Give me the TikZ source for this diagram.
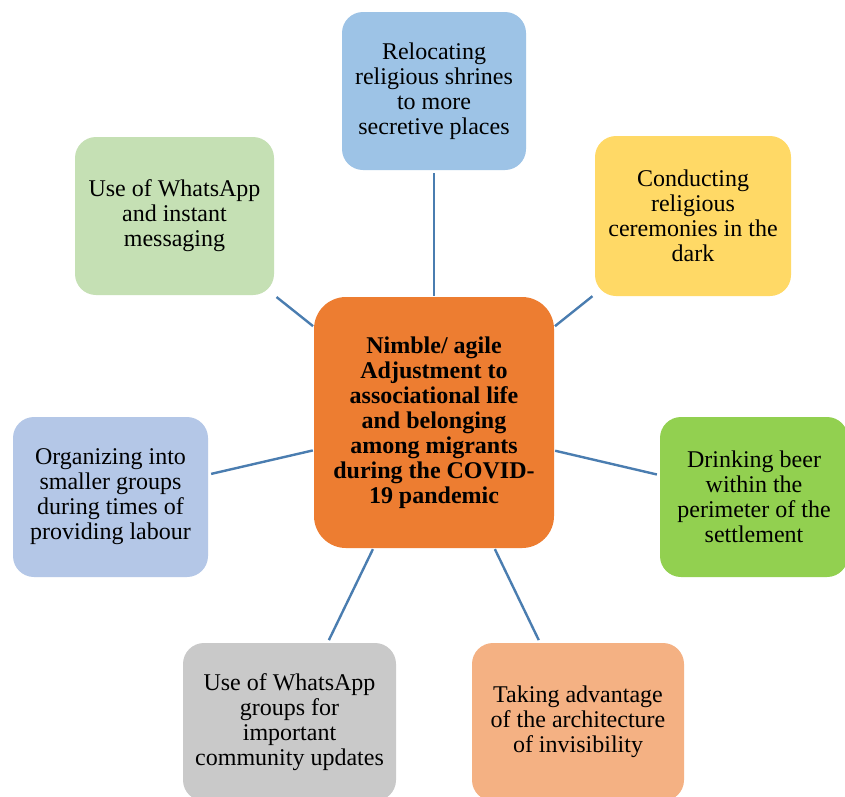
\documentclass[tikz,border=0pt]{standalone}
\usepackage{fontspec}
\setmainfont{Liberation Serif}
\definecolor{hubfill}{HTML}{ED7D31}
\definecolor{cBlue}{HTML}{9DC3E6}
\definecolor{cYellow}{HTML}{FFD966}
\definecolor{cGreen}{HTML}{92D050}
\definecolor{cSalmon}{HTML}{F4B183}
\definecolor{cGray}{HTML}{C9C9C9}
\definecolor{cPale}{HTML}{B4C7E7}
\definecolor{cSage}{HTML}{C5E0B4}
\definecolor{linkcol}{HTML}{4A7DB0}
\tikzset{
  leaf/.style={rounded corners=21pt, inner sep=0pt, align=center,
    font=\fontsize{24}{25}\selectfont, text=black},
  hub/.style={rounded corners=32pt, inner sep=0pt, align=center, fill=hubfill,
    minimum width=240pt, minimum height=251pt,
    font=\fontsize{24}{25}\selectfont\bfseries, text=black},
  link/.style={draw=linkcol, line width=2.4pt, shorten >=3pt, shorten <=1pt}
}
\begin{document}
\begin{tikzpicture}[x=1pt,y=-1pt]
\useasboundingbox (0,0) rectangle (845,796);
\fill[white] (0,0) rectangle (845,796);

\node[hub] (hub) at (434,422.5) {Nimble/ agile\\Adjustment to\\associational life\\and belonging\\among migrants\\during the COVID-\\19 pandemic};

\node[leaf, fill=cBlue, minimum width=184pt, minimum height=158pt] (top) at (434,91)
  {Relocating\\religious shrines\\to more\\secretive places};
\node[leaf, fill=cSage, minimum width=199pt, minimum height=158pt] (tl) at (174.5,216)
  {Use of WhatsApp\\and instant\\messaging};
\node[leaf, fill=cYellow, minimum width=196pt, minimum height=160pt] (tr) at (693,216)
  {Conducting\\religious\\ceremonies in the\\dark};
\node[leaf, fill=cPale, minimum width=195pt, minimum height=160pt] (lf) at (110.5,497)
  {Organizing into\\smaller groups\\during times of\\providing labour};
\node[leaf, fill=cGreen, minimum width=188pt, minimum height=160pt] (rt) at (754,497)
  {Drinking beer\\within the\\perimeter of the\\settlement};
\node[leaf, fill=cGray, minimum width=213pt, minimum height=158pt] (bl) at (289.5,722)
  {Use of WhatsApp\\groups for\\important\\community updates};
\node[leaf, fill=cSalmon, minimum width=212pt, minimum height=158pt] (br) at (578,722)
  {Taking advantage\\of the architecture\\of invisibility};

\foreach \n in {top,tl,tr,lf,rt,bl,br}
  \draw[link] (hub) -- (\n);
\end{tikzpicture}
\end{document}
